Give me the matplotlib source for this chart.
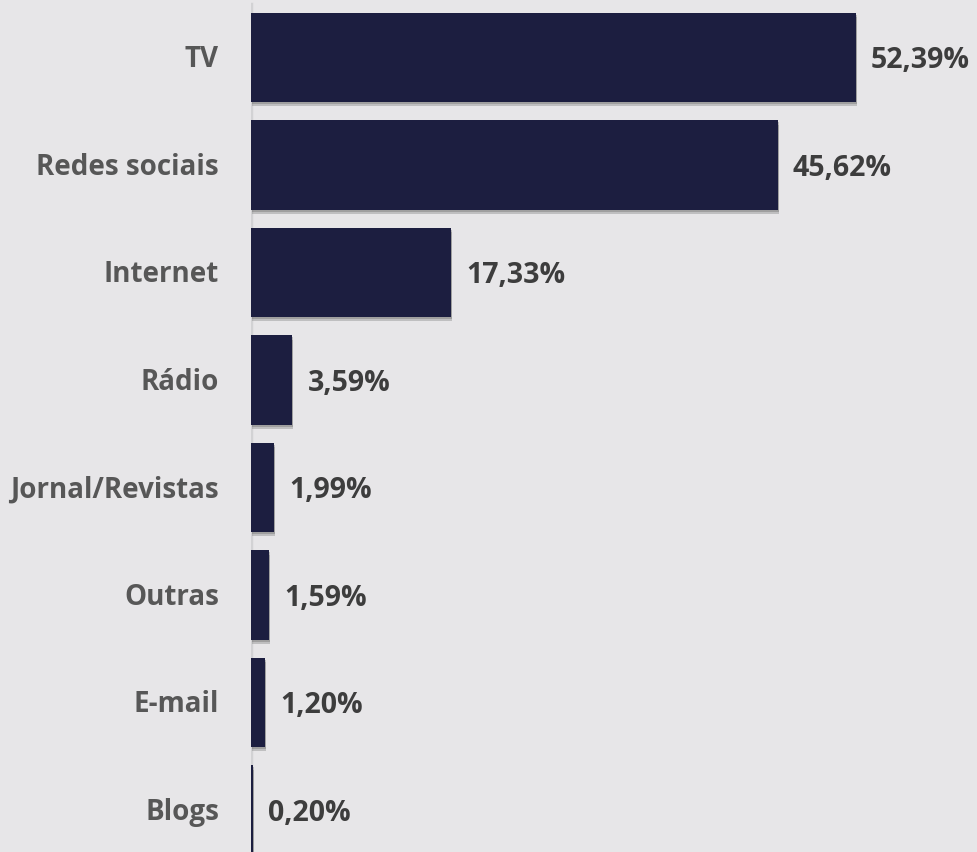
import matplotlib.pyplot as plt
import matplotlib.patheffects as pe

categorias = ['TV', 'Redes sociais', 'Internet', 'Rádio', 'Jornal/Revistas', 'Outras', 'E-mail', 'Blogs']
valores = [52.39, 45.62, 17.33, 3.59, 1.99, 1.59, 1.20, 0.20]
rotulos = ['52,39%', '45,62%', '17,33%', '3,59%', '1,99%', '1,59%', '1,20%', '0,20%']

fundo = '#e7e6e8'
cor_barra = '#1c1e40'

fig = plt.figure(figsize=(9.78, 8.52), dpi=100, facecolor=fundo)
ax = fig.add_axes([251 / 978, 0, 727 / 978, 1])
ax.set_facecolor(fundo)

pos = list(range(len(categorias)))
barras = ax.barh(pos, valores, height=0.83, color=cor_barra, zorder=3)
for b in barras:
    b.set_path_effects([pe.SimplePatchShadow(offset=(0.5, -3), shadow_rgbFace='#777777', alpha=0.35),
                        pe.SimplePatchShadow(offset=(0.5, -1.5), shadow_rgbFace='#555555', alpha=0.3),
                        pe.Normal()])

ax.set_xlim(0, 727 / 11.55)
ax.set_ylim((852 - 57.5) / 107.5, -57.5 / 107.5)

for s in ax.spines.values():
    s.set_visible(False)
ax.set_xticks([])
ax.set_yticks([])

# linha vertical do eixo
ax.axvline(-0.02, ymin=0, ymax=1 - 4 / 852, color='#d2d2d4', lw=2.5, zorder=2)

for i, (cat, v, r) in enumerate(zip(categorias, valores, rotulos)):
    ax.text(-32 / 11.55, i + 0.02, cat, ha='right', va='center', fontsize=20,
            fontweight='bold', color='#575757', family='Open Sans')
    ax.text(v + 15 / 11.55, i + 0.03, r, ha='left', va='center', fontsize=20.5,
            fontweight='bold', color='#3d3d3d', family='Open Sans', clip_on=False)

fig.savefig('out.png', dpi=100, facecolor=fundo)
